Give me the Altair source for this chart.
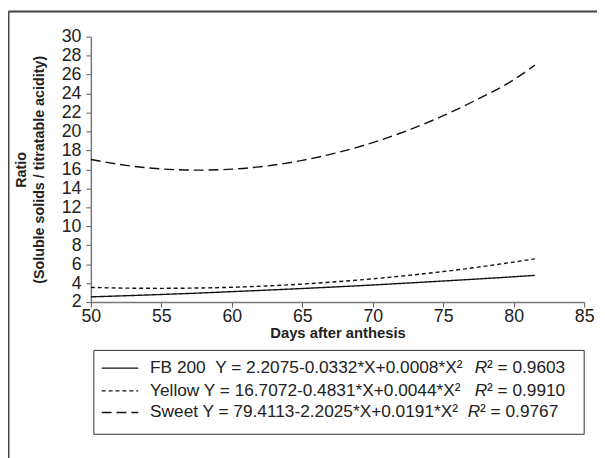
import altair as alt
import pandas as pd

# ---- data ----
days = [50, 52.5, 55, 57.5, 60, 62.5, 65, 67.5, 70, 72.5, 75, 77.5, 80, 81.5]
fb200 = [2.55, 2.67, 2.80, 2.94, 3.10, 3.26, 3.43, 3.61, 3.80, 4.01, 4.22, 4.44, 4.67, 4.82]
yellow = [3.55, 3.47, 3.45, 3.48, 3.56, 3.70, 3.90, 4.15, 4.45, 4.81, 5.22, 5.69, 6.22, 6.56]
sweet = [17.04, 16.42, 16.05, 15.92, 16.02, 16.36, 16.95, 17.77, 18.83, 20.12, 21.66, 23.44, 25.45, 27.0]

series_names = ["FB 200", "Yellow", "Sweet"]
equations = [
    "FB 200\u00a0\u00a0Y = 2.2075-0.0332*X+0.0008*X²",
    "Yellow Y = 16.7072-0.4831*X+0.0044*X²",
    "Sweet Y = 79.4113-2.2025*X+0.0191*X²",
]
r2_values = ["0.9603", "0.9910", "0.9767"]

x_ticks = [50, 55, 60, 65, 70, 75, 80, 85]
y_ticks = list(range(2, 31, 2))

FONT = "Liberation Sans, Arial, Helvetica, sans-serif"
TXT = "#222222"
dashes = [[1, 0], [4, 3], [10, 5]]

rows = []
for name, vals in zip(series_names, [fb200, yellow, sweet]):
    for d, v in zip(days, vals):
        rows.append({"day": d, "ratio": v, "series": name})
df = pd.DataFrame(rows)

lines = alt.Chart(df).mark_line(color="#111111", strokeWidth=1.4, interpolate="monotone").encode(
    x=alt.X("day:Q", scale=alt.Scale(domain=[50, 85], nice=False, zero=False),
            axis=alt.Axis(values=x_ticks, title="Days after anthesis", grid=False,
                          tickSize=5, labelPadding=1, labelFontSize=18, labelFont=FONT,
                          labelColor=TXT, domainColor="#777777", domainWidth=1.5,
                          tickColor="#555555", titleFont=FONT, titleFontSize=15,
                          titleFontWeight="bold", titleColor=TXT, titleY=31,
                          titleBaseline="middle", labelFlush=False)),
    y=alt.Y("ratio:Q", scale=alt.Scale(domain=[2, 30], nice=False, zero=False),
            axis=alt.Axis(values=y_ticks, title=["Ratio", "(Soluble solids / titratable acidity)"],
                          grid=False, tickSize=5, labelPadding=5, labelFontSize=18,
                          labelFont=FONT, labelColor=TXT, domainColor="#777777",
                          domainWidth=1.5, tickColor="#555555", titleFont=FONT,
                          titleFontSize=14.5, titleFontWeight="bold", titleColor=TXT,
                          titleX=-63, titleY=134.5, titleAngle=-90, titleAlign="center",
                          titleBaseline="bottom", titleLineHeight=18, labelFlush=False)),
    strokeDash=alt.StrokeDash("series:N", scale=alt.Scale(domain=series_names, range=dashes),
                              legend=None),
    detail="series:N",
)

one = pd.DataFrame({"k": [0]})

frame_left = alt.Chart(one).mark_rule(color="#444444", strokeWidth=2).encode(
    x=alt.value(-83.5), y=alt.value(-25.5), y2=alt.value(500))
frame_top = alt.Chart(one).mark_rule(color="#444444", strokeWidth=2).encode(
    x=alt.value(-83.5), x2=alt.value(600), y=alt.value(-25.5))

box = alt.Chart(one).mark_rect(fill="white", stroke="#333333", strokeWidth=1).encode(
    x=alt.value(3), x2=alt.value(500), y=alt.value(318), y2=alt.value(403))

layers = [frame_left, frame_top, lines, box]
row_y = [336, 359, 381]
r_x = [389, 389, 382]
FS = 17.5
for i in range(3):
    leg = pd.DataFrame({"eq": [equations[i]], "r2": ["² = " + r2_values[i]], "R": ["R"]})
    sym = alt.Chart(leg).mark_rule(color="#111111", strokeWidth=1.4,
                                   strokeDash=dashes[i]).encode(
        x=alt.value(11), x2=alt.value(48), y=alt.value(row_y[i]))
    t1 = alt.Chart(leg).mark_text(align="left", baseline="middle", font=FONT, fontSize=FS,
                                  color=TXT).encode(
        x=alt.value(60), y=alt.value(row_y[i]), text="eq:N")
    t2 = alt.Chart(leg).mark_text(align="left", baseline="middle", font=FONT, fontSize=FS,
                                  fontStyle="italic", color=TXT).encode(
        x=alt.value(r_x[i]), y=alt.value(row_y[i]), text="R:N")
    t3 = alt.Chart(leg).mark_text(align="left", baseline="middle", font=FONT, fontSize=FS,
                                  color=TXT).encode(
        x=alt.value(r_x[i] + 12.5), y=alt.value(row_y[i]), text="r2:N")
    layers += [sym, t1, t2, t3]

chart = alt.layer(*layers).properties(
    width=500, height=269,
    padding={"left": 84, "top": 26, "right": 13, "bottom": 155},
    autosize=alt.AutoSizeParams(type="none"),
    background="white",
).configure_view(stroke=None)

chart.save("out.html", embed_options={"renderer": "svg", "actions": False})
